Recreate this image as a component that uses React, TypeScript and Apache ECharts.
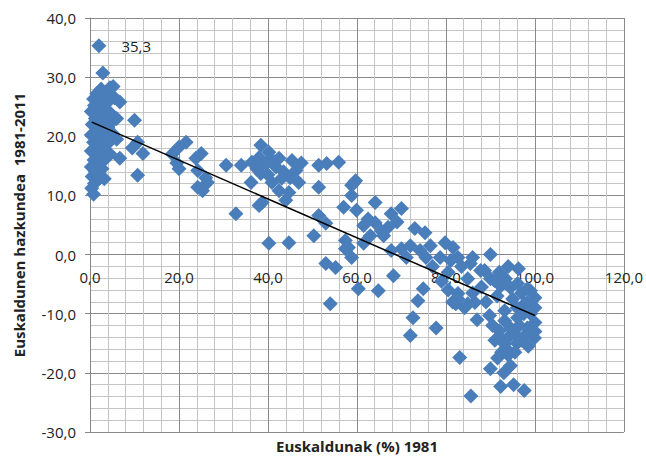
import React, { useEffect, useRef } from "react";
import * as echarts from "echarts";

// Euskaldunak (%) 1981 vs Euskaldunen hazkundea 1981-2011
const leftCluster: number[][] = [
  [2.9, 30.7], [5.2, 28.4], [4.5, 28.2], [2.5, 28.0], [1.5, 27.2], [3.5, 27.0],
  [0.8, 26.3], [2.2, 26.0], [4.0, 25.8], [5.5, 26.5], [6.7, 25.8], [1.0, 25.2],
  [3.0, 24.8], [0.3, 24.2], [2.0, 23.8], [4.5, 24.0], [6.0, 23.0], [1.2, 23.0],
  [3.3, 22.8], [0.5, 22.0], [2.4, 21.8], [4.0, 21.5], [1.5, 20.8], [0.3, 20.2],
  [3.0, 20.3], [5.0, 20.5], [2.2, 19.5], [0.8, 19.0], [4.0, 18.8], [1.5, 18.2],
  [3.0, 17.8], [0.3, 17.5], [2.0, 16.8], [0.9, 16.0], [3.5, 16.2], [1.8, 15.2],
  [0.3, 14.8], [2.7, 14.5], [1.2, 14.0], [0.5, 13.2], [2.2, 13.0], [3.2, 12.8],
  [1.0, 12.0], [0.4, 11.2], [0.8, 10.2], [5.0, 22.5], [6.0, 19.5], [4.5, 17.0],
  [10.0, 22.7], [10.7, 19.0], [9.5, 18.0], [11.9, 17.1], [6.7, 16.3], [10.7, 13.4],
];
const topPoint: number[] = [2.0, 35.3];
const midLeft: number[][] = [
  [20.0, 18.2], [21.6, 19.0], [18.5, 17.0], [19.5, 15.5], [20.0, 14.5], [23.8, 16.3],
  [25.0, 17.1], [24.2, 14.2], [26.4, 12.2], [24.2, 11.4], [25.3, 10.8], [26.0, 13.0],
  [30.6, 15.1], [34.0, 15.1], [36.4, 15.6], [38.4, 18.5], [40.2, 17.3], [38.0, 16.4],
  [39.5, 15.4], [42.5, 16.3], [41.8, 14.8], [36.2, 12.2], [38.4, 13.7], [40.9, 12.2],
  [43.1, 12.9], [45.4, 15.9], [46.3, 14.2], [46.9, 12.2], [42.5, 10.8], [44.7, 10.5],
  [44.0, 9.2], [38.0, 8.3], [38.7, 8.8], [32.8, 6.9], [40.2, 1.9], [44.7, 2.0],
  [41.0, 16.0], [37.5, 14.5], [43.5, 14.0], [45.0, 13.0], [47.5, 15.5], [40.0, 13.5],
];
const middle: number[][] = [
  [51.4, 15.1], [53.2, 15.4], [55.9, 15.6], [51.4, 11.4], [51.4, 6.6], [53.0, 5.3],
  [50.3, 3.2], [53.0, -1.5], [55.2, -2.2], [58.8, 11.7], [59.7, 12.5], [58.8, 10.0],
  [57.4, 2.4], [58.1, 1.2], [58.8, -0.5], [54.0, -8.3], [59.2, 12.0], [57.0, 8.0],
  [59.9, 7.5], [64.1, 8.8], [70.0, 7.8], [67.7, 6.9], [61.5, 4.9], [64.1, 5.4],
  [67.0, 4.6], [66.0, 3.2], [63.0, 3.2], [57.4, 1.0], [61.5, 1.9], [67.7, 0.7],
  [73.0, 4.4], [75.3, 3.7], [72.0, 1.5], [74.2, 0.7], [75.5, -0.5], [71.1, -0.5],
  [79.8, 2.0], [78.7, -0.5], [68.2, -3.6], [60.3, -5.8], [64.8, -6.1], [74.9, -5.8],
  [73.7, -7.8], [72.6, -10.7], [77.8, -12.4], [72.0, -13.7], [62.5, 6.0], [65.5, 4.0],
  [69.0, 5.5], [76.5, 1.5], [77.0, -2.0], [70.0, 1.0],
];
const rightCluster: number[][] = [
  [81.6, 1.2], [82.7, -0.5], [86.0, -0.5], [90.0, 0.0], [87.8, -2.7], [84.9, -4.1],
  [90.0, -4.1], [96.3, -2.4], [92.3, -5.3], [94.5, -5.6], [98.3, -5.8], [100.0, -7.3],
  [97.7, -8.3], [82.7, -7.5], [84.9, -8.3], [89.8, -10.3], [93.2, -11.2], [96.1, -10.7],
  [98.3, -12.4], [99.9, -14.1], [95.4, -13.4], [92.3, -14.2], [93.5, -15.9], [91.6, -17.5],
  [94.5, -18.8], [90.0, -19.3], [83.1, -17.4], [92.3, -22.3], [95.2, -22.0], [97.6, -23.0],
  [85.6, -23.9], [84.2, -9.0], [86.5, -8.1], [93.2, -9.5], [94.5, -12.4], [92.0, -12.9],
  [93.2, -15.1], [98.3, -8.1], [100.0, -9.0], [99.0, -6.1], [96.1, -4.9], [93.4, -4.1],
  [90.9, -4.4], [88.7, -2.7], [83.5, -2.0], [85.5, -1.5], [88.0, -5.5], [86.0, -6.5],
  [91.5, -7.0], [95.0, -7.5], [97.0, -6.5], [99.0, -10.0], [100.0, -11.5], [97.0, -14.5],
  [98.5, -15.5], [95.5, -16.5], [93.0, -20.0], [96.0, -9.0], [92.0, -3.0], [94.0, -2.0],
  [89.0, -8.0], [87.0, -11.0], [100.0, -13.0], [80.5, -3.0], [79.0, -4.5], [80.5, -6.0],
  [81.5, -8.0], [82.2, -8.3], [82.7, -6.6], [81.1, -1.0], [90.5, -12.0], [91.0, -14.5],
  [96.5, -12.0], [97.5, -10.0], [94.0, -14.0], [99.0, -12.8], [96.0, -15.0], [92.5, -16.5],
  [94.0, -17.0], [98.0, -13.5],
];
// linear trend line endpoints
const trendX: number[] = [0.4, 100.0];
const trendY: number[] = [22.4, -10.3];

const xTitle = "Euskaldunak (%) 1981";
const yTitle = "Euskaldunen hazkundea  1981-2011";

const FONT = "'Open Sans', 'Noto Sans', sans-serif";
const fmt = (v: number) => v.toFixed(1).replace(".", ",");

const Y_MIN = -30;
const Y_MAX = 40;
const GRID_TOP = 18;
const GRID_BOTTOM = 24;
const H = 456;

export default function App() {
  const ref = useRef<HTMLDivElement>(null);
  useEffect(() => {
    if (!ref.current) return;
    const chart = echarts.init(ref.current, null, { renderer: "svg" });
    const plotH = H - GRID_TOP - GRID_BOTTOM;
    // distance of the value 0 above the bottom edge of the plot
    const zeroOffset = (plotH * (0 - Y_MIN)) / (Y_MAX - Y_MIN);
    const points: any[] = [
      ...leftCluster,
      ...midLeft,
      ...middle,
      ...rightCluster,
      {
        value: topPoint,
        label: {
          show: true,
          position: "right",
          distance: 15,
          formatter: fmt(topPoint[1]),
          color: "#222",
          fontSize: 15,
          fontFamily: FONT,
        },
      },
    ];
    chart.setOption({
      animation: false,
      backgroundColor: "#ffffff",
      grid: { left: 90, top: GRID_TOP, right: 19, bottom: GRID_BOTTOM, containLabel: false },
      xAxis: {
        type: "value",
        min: 0,
        max: 120,
        interval: 20,
        position: "bottom",
        offset: -zeroOffset,
        axisLine: { show: true, onZero: false, lineStyle: { color: "#868686", width: 1 } },
        axisTick: { show: false },
        axisLabel: { margin: 15, color: "#222", fontSize: 15, fontFamily: FONT, formatter: fmt },
        splitLine: { show: true, lineStyle: { color: "#8a8a8a", width: 1 } },
        minorTick: { show: false, splitNumber: 5 },
        minorSplitLine: { show: true, lineStyle: { color: "#c4c4c4", width: 1 } },
      },
      yAxis: {
        type: "value",
        min: Y_MIN,
        max: Y_MAX,
        interval: 10,
        name: yTitle,
        nameLocation: "middle",
        nameGap: 64,
        nameTextStyle: { fontSize: 15, fontWeight: "bold", color: "#222", fontFamily: FONT },
        axisLine: { show: true, onZero: false, lineStyle: { color: "#868686", width: 1 } },
        axisTick: { show: true, inside: false, length: 5, lineStyle: { color: "#868686" } },
        axisLabel: { margin: 14, color: "#222", fontSize: 15, fontFamily: FONT, formatter: fmt },
        splitLine: { show: true, lineStyle: { color: "#8a8a8a", width: 1 } },
        minorTick: { show: false, splitNumber: 5 },
        minorSplitLine: { show: true, lineStyle: { color: "#c4c4c4", width: 1 } },
      },
      graphic: [
        {
          type: "text",
          x: 357,
          y: 446,
          style: {
            text: xTitle,
            textAlign: "center",
            textVerticalAlign: "middle",
            fontSize: 15,
            fontWeight: "bold",
            fontFamily: FONT,
            fill: "#222",
          },
        },
      ],
      series: [
        {
          type: "scatter",
          symbol: "diamond",
          symbolSize: 15,
          itemStyle: { color: "#4A7EBB", opacity: 1 },
          data: points,
          z: 2,
        },
        {
          type: "line",
          data: trendX.map((x, i) => [x, trendY[i]]),
          symbol: "none",
          lineStyle: { color: "#000", width: 1.5 },
          z: 3,
        },
      ],
    });
    return () => chart.dispose();
  }, []);
  return (
    <div
      ref={ref}
      style={{ position: "fixed", left: 0, top: 0, width: 646, height: 456, background: "#fff" }}
    />
  );
}
